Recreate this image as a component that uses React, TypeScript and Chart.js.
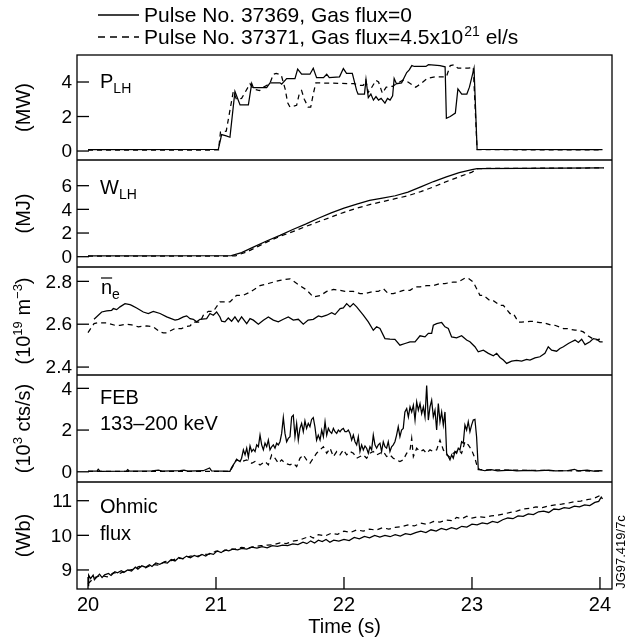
import React, { useEffect, useRef } from "react";
import { Chart, registerables } from "chart.js";

Chart.register(...registerables);

const FONT = "'Liberation Sans', Arial, Helvetica, sans-serif";

type Pt = [number, number];

// ---- ticks ----
const xTicks = [20, 21, 22, 23, 24];
const pTicks = [0, 2, 4];
const wTicks = [0, 2, 4, 6];
const neTicks = [2.4, 2.6, 2.8];
const febTicks = [0, 2, 4];
const ohmTicks = [9, 10, 11];

// ---- legend ----
const legendSolid = "Pulse No. 37369, Gas flux=0";
const legendDashedA = "Pulse No. 37371, Gas flux=4.5x10";
const legendDashedSup = "21";
const legendDashedB = " el/s";

// ---- P_LH (MW) ----
const pSolid: Pt[] = [
  [20.0, 0.08], [21.018, 0.1], [21.044, 0.95], [21.08, 0.88], [21.109, 0.8], [21.148, 3.45], [21.188, 2.67],
  [21.253, 2.67], [21.279, 3.92], [21.292, 3.67], [21.396, 3.67], [21.422, 3.95], [21.5, 3.95], [21.513, 3.88],
  [21.552, 4.2], [21.617, 4.2], [21.638, 4.75], [21.669, 4.45], [21.734, 4.45], [21.76, 4.8], [21.786, 4.25],
  [21.84, 4.25], [21.865, 4.45], [21.885, 4.25], [21.965, 4.3], [21.995, 4.78], [22.02, 4.5], [22.065, 4.5],
  [22.099, 3.5], [22.11, 3.3], [22.16, 3.3], [22.172, 4.15], [22.19, 3.1], [22.21, 3.3], [22.23, 2.95],
  [22.25, 3.15], [22.27, 2.95], [22.29, 3.05], [22.32, 2.78], [22.34, 3.05], [22.36, 2.95], [22.38, 3.2],
  [22.392, 4.2], [22.41, 3.9], [22.45, 3.95], [22.49, 4.55], [22.51, 4.7], [22.53, 4.95], [22.55, 4.9],
  [22.64, 4.9], [22.66, 5.0], [22.75, 4.95], [22.79, 4.88], [22.8, 1.9], [22.83, 2.0], [22.87, 2.2],
  [22.89, 3.6], [22.92, 3.3], [22.96, 3.3], [22.98, 3.7], [23.016, 4.8], [23.04, 0.1], [24.02, 0.08],
];
const pDashed: Pt[] = [
  [20.0, 0.05], [21.02, 0.06], [21.035, 1.1], [21.08, 1.15], [21.135, 3.45], [21.16, 3.0], [21.2, 3.05],
  [21.266, 3.9], [21.29, 3.6], [21.34, 3.5], [21.37, 3.7], [21.42, 3.9], [21.448, 4.45], [21.47, 4.5],
  [21.51, 4.4], [21.54, 3.6], [21.56, 2.8], [21.578, 2.55], [21.604, 2.6], [21.63, 2.65], [21.65, 3.3],
  [21.669, 3.5], [21.69, 3.0], [21.72, 2.55], [21.74, 2.55], [21.76, 3.3], [21.78, 3.95], [21.8, 3.95],
  [22.08, 3.9], [22.12, 3.8], [22.15, 3.8], [22.17, 4.1], [22.19, 3.4], [22.21, 3.6], [22.25, 4.1],
  [22.27, 4.0], [22.3, 3.35], [22.33, 3.7], [22.38, 3.75], [22.41, 3.9], [22.46, 4.1], [22.5, 4.0],
  [22.56, 3.7], [22.6, 3.9], [22.65, 4.2], [22.71, 4.3], [22.8, 4.3], [22.83, 4.95], [22.86, 5.0],
  [22.89, 4.8], [22.97, 4.8], [23.01, 4.85], [23.04, 0.08], [24.02, 0.06],
];

// ---- W_LH (MJ) ----
const wSolid: Pt[] = [
  [20.0, 0.06], [21.12, 0.09], [21.2, 0.35], [21.3, 0.85], [21.4, 1.35], [21.5, 1.8], [21.6, 2.3],
  [21.7, 2.75], [21.8, 3.25], [21.9, 3.7], [22.0, 4.1], [22.1, 4.45], [22.2, 4.75], [22.3, 4.95],
  [22.4, 5.15], [22.5, 5.45], [22.6, 5.9], [22.7, 6.35], [22.8, 6.75], [22.9, 7.1], [23.0, 7.35],
  [23.04, 7.45], [24.03, 7.5],
];
const wDashed: Pt[] = [
  [20.0, 0.04], [21.15, 0.06], [21.25, 0.45], [21.3, 0.72], [21.4, 1.25], [21.5, 1.72], [21.6, 2.12],
  [21.7, 2.55], [21.8, 2.95], [21.9, 3.35], [22.0, 3.75], [22.1, 4.1], [22.2, 4.4], [22.3, 4.65],
  [22.4, 4.9], [22.5, 5.15], [22.6, 5.5], [22.7, 5.9], [22.8, 6.35], [22.9, 6.75], [23.0, 7.15],
  [23.05, 7.45], [24.03, 7.5],
];

// ---- n_e (1e19 m^-3) ----
const neSolid: Pt[] = [
  [20.047, 2.623], [20.107, 2.657], [20.146, 2.662], [20.185, 2.665], [20.198, 2.673], [20.224, 2.668],
  [20.25, 2.681], [20.289, 2.696], [20.328, 2.691], [20.341, 2.688], [20.38, 2.676], [20.432, 2.657],
  [20.471, 2.65], [20.51, 2.66], [20.563, 2.65], [20.615, 2.634], [20.68, 2.619], [20.706, 2.623],
  [20.745, 2.634], [20.771, 2.639], [20.797, 2.626], [20.823, 2.623], [20.849, 2.611], [20.875, 2.623],
  [20.927, 2.626], [20.953, 2.65], [20.979, 2.642], [21.005, 2.657], [21.031, 2.634], [21.044, 2.614],
  [21.07, 2.611], [21.096, 2.629], [21.122, 2.614], [21.148, 2.634], [21.174, 2.611], [21.2, 2.634],
  [21.24, 2.603], [21.266, 2.626], [21.292, 2.619], [21.331, 2.6], [21.37, 2.619], [21.409, 2.634],
  [21.448, 2.619], [21.487, 2.611], [21.526, 2.623], [21.565, 2.634], [21.604, 2.619], [21.643, 2.623],
  [21.682, 2.6], [21.72, 2.619], [21.76, 2.623], [21.8, 2.639], [21.825, 2.634], [21.865, 2.642],
  [21.904, 2.654], [21.93, 2.645], [21.97, 2.673], [21.995, 2.676], [22.021, 2.696], [22.047, 2.681],
  [22.073, 2.696], [22.099, 2.681], [22.151, 2.642], [22.19, 2.611], [22.229, 2.572], [22.255, 2.588],
  [22.281, 2.58], [22.32, 2.533], [22.359, 2.53], [22.398, 2.529], [22.437, 2.502], [22.477, 2.51],
  [22.516, 2.518], [22.555, 2.518], [22.594, 2.546], [22.633, 2.541], [22.659, 2.557], [22.685, 2.557],
  [22.698, 2.595], [22.724, 2.603], [22.763, 2.608], [22.789, 2.588], [22.815, 2.58], [22.841, 2.541],
  [22.88, 2.536], [22.919, 2.546], [22.958, 2.526], [22.984, 2.518], [23.023, 2.495], [23.049, 2.471],
  [23.089, 2.479], [23.128, 2.464], [23.167, 2.453], [23.193, 2.464], [23.219, 2.445], [23.245, 2.433],
  [23.271, 2.417], [23.31, 2.428], [23.349, 2.431], [23.388, 2.428], [23.427, 2.436], [23.453, 2.433],
  [23.492, 2.443], [23.531, 2.448], [23.57, 2.464], [23.596, 2.495], [23.622, 2.479], [23.661, 2.474],
  [23.687, 2.487], [23.714, 2.495], [23.753, 2.51], [23.779, 2.518], [23.805, 2.526], [23.831, 2.515],
  [23.857, 2.53], [23.883, 2.505], [23.922, 2.518], [23.948, 2.533], [23.974, 2.53], [24.0, 2.518],
  [24.021, 2.518],
];
const neDashed: Pt[] = [
  [20.0, 2.561], [20.047, 2.603], [20.073, 2.606], [20.146, 2.606], [20.211, 2.595], [20.25, 2.595],
  [20.302, 2.6], [20.341, 2.597], [20.393, 2.588], [20.458, 2.592], [20.51, 2.588], [20.563, 2.564],
  [20.589, 2.56], [20.615, 2.56], [20.68, 2.58], [20.732, 2.58], [20.758, 2.588], [20.797, 2.592],
  [20.823, 2.61], [20.875, 2.61], [20.901, 2.642], [20.94, 2.66], [20.979, 2.66], [21.031, 2.704],
  [21.109, 2.704], [21.161, 2.735], [21.214, 2.735], [21.266, 2.75], [21.344, 2.78], [21.409, 2.79],
  [21.5, 2.805], [21.578, 2.812], [21.656, 2.78], [21.708, 2.76], [21.76, 2.727], [21.813, 2.733],
  [21.865, 2.753], [21.917, 2.762], [21.969, 2.758], [22.008, 2.753], [22.073, 2.753], [22.125, 2.743],
  [22.164, 2.743], [22.229, 2.753], [22.268, 2.753], [22.307, 2.766], [22.346, 2.743], [22.385, 2.743],
  [22.464, 2.758], [22.516, 2.758], [22.555, 2.774], [22.594, 2.774], [22.646, 2.78], [22.698, 2.78],
  [22.75, 2.79], [22.789, 2.79], [22.854, 2.797], [22.893, 2.797], [22.945, 2.815], [22.971, 2.815],
  [23.01, 2.797], [23.062, 2.735], [23.089, 2.735], [23.141, 2.71], [23.167, 2.71], [23.219, 2.688],
  [23.245, 2.688], [23.297, 2.65], [23.323, 2.65], [23.362, 2.61], [23.388, 2.61], [23.453, 2.613],
  [23.479, 2.613], [23.531, 2.608], [23.557, 2.608], [23.622, 2.595], [23.648, 2.595], [23.714, 2.58],
  [23.74, 2.58], [23.805, 2.572], [23.831, 2.572], [23.87, 2.564], [23.909, 2.545], [23.961, 2.526],
  [24.0, 2.53],
];

// ---- FEB 133-200 keV (1e3 cts/s) ----
const febSolid: Pt[] = [
  [20.0, 0.03], [20.07, 0.03], [20.08, 0.12], [20.095, 0.02], [20.3, 0.03], [20.31, 0.1], [20.325, 0.03],
  [20.5, 0.04], [20.55, 0.08], [20.58, 0.03], [20.72, 0.05], [20.75, 0.08], [20.78, 0.03], [20.9, 0.05],
  [20.95, 0.18], [20.965, 0.04], [21.05, 0.03], [21.109, 0.02],
  [21.122, 0.2], [21.135, 0.33], [21.148, 0.45], [21.161, 0.6], [21.174, 0.54], [21.188, 0.49], [21.2, 0.65],
  [21.214, 1.05], [21.227, 0.81], [21.24, 1.13], [21.253, 0.7], [21.266, 1.24], [21.279, 0.97], [21.292, 1.08],
  [21.305, 0.97], [21.318, 1.29], [21.331, 1.2], [21.344, 1.76], [21.357, 1.29], [21.37, 1.05], [21.383, 1.37],
  [21.396, 1.2], [21.409, 1.52], [21.422, 1.05], [21.435, 1.2], [21.448, 1.29], [21.461, 1.13], [21.474, 1.37],
  [21.487, 1.29], [21.5, 1.44], [21.513, 1.84], [21.526, 2.6], [21.539, 1.84], [21.552, 1.44], [21.565, 1.6],
  [21.578, 1.68], [21.591, 2.63], [21.604, 2.71], [21.617, 1.68], [21.63, 2.32], [21.643, 1.52], [21.656, 2.08],
  [21.669, 2.32], [21.682, 1.92], [21.695, 2.44], [21.708, 2.08], [21.721, 2.32], [21.734, 2.16], [21.747, 2.51],
  [21.76, 2.6], [21.773, 2.16], [21.786, 1.52], [21.799, 1.76], [21.813, 1.52], [21.826, 2.0], [21.839, 1.68],
  [21.852, 2.4], [21.865, 1.76], [21.878, 2.08], [21.891, 1.92], [21.904, 1.84], [21.917, 2.08], [21.93, 1.92],
  [21.943, 1.84], [21.956, 2.0], [21.969, 1.92], [21.982, 2.03], [21.995, 2.08], [22.008, 1.92], [22.021, 1.92],
  [22.034, 2.0], [22.047, 1.84], [22.06, 1.52], [22.073, 1.76], [22.086, 1.44], [22.099, 1.29], [22.112, 1.68],
  [22.125, 0.97], [22.138, 1.29], [22.151, 1.05], [22.164, 1.24], [22.177, 1.13], [22.19, 0.89], [22.203, 1.2],
  [22.216, 1.05], [22.229, 1.76], [22.242, 1.29], [22.255, 1.13], [22.268, 1.29], [22.281, 1.37], [22.294, 0.97],
  [22.307, 1.44], [22.32, 1.2], [22.333, 1.13], [22.346, 1.44], [22.359, 0.97], [22.372, 1.2], [22.385, 1.29],
  [22.398, 1.44], [22.411, 1.76], [22.424, 2.16], [22.437, 1.68], [22.45, 2.0], [22.463, 2.08], [22.476, 2.87],
  [22.49, 3.03], [22.503, 2.63], [22.516, 3.11], [22.529, 2.87], [22.542, 3.19], [22.555, 2.48], [22.568, 3.35],
  [22.581, 2.95], [22.594, 3.27], [22.607, 2.79], [22.62, 3.11], [22.633, 2.63], [22.646, 4.14], [22.659, 2.48],
  [22.672, 3.11], [22.685, 3.43], [22.698, 2.63], [22.711, 2.95], [22.724, 2.0], [22.737, 3.27], [22.75, 2.4],
  [22.763, 2.87], [22.776, 2.24], [22.789, 2.87], [22.802, 0.89], [22.815, 0.73], [22.828, 0.57], [22.841, 0.81],
  [22.854, 0.65], [22.867, 0.97], [22.88, 0.89], [22.893, 1.13], [22.906, 1.05], [22.919, 1.44], [22.932, 1.37],
  [22.945, 2.24], [22.958, 2.0], [22.971, 2.4], [22.984, 1.92], [22.997, 2.24], [23.01, 2.48], [23.023, 2.51],
  [23.036, 1.68], [23.049, 0.17], [23.062, 0.1], [23.1, 0.05], [23.15, 0.1], [23.2, 0.04], [23.3, 0.08],
  [23.35, 0.04], [23.45, 0.07], [23.5, 0.04], [23.6, 0.08], [23.65, 0.04], [23.75, 0.06], [23.8, 0.12],
  [23.83, 0.04], [23.9, 0.08], [23.95, 0.03], [24.0, 0.06], [24.02, 0.04],
];
const febDashed: Pt[] = [
  [20.0, 0.02], [21.109, 0.02], [21.161, 0.57], [21.2, 0.49], [21.24, 0.57], [21.279, 0.41], [21.305, 0.49],
  [21.344, 0.33], [21.383, 0.49], [21.409, 0.33], [21.435, 0.81], [21.461, 0.65], [21.487, 0.41], [21.513, 0.57],
  [21.539, 0.41], [21.578, 0.33], [21.604, 0.41], [21.63, 0.25], [21.656, 0.65], [21.682, 0.81], [21.708, 0.57],
  [21.734, 0.41], [21.76, 0.65], [21.786, 0.89], [21.813, 1.05], [21.839, 1.2], [21.865, 0.89], [21.891, 1.13],
  [21.917, 0.73], [21.943, 0.97], [21.969, 0.81], [21.995, 1.05], [22.021, 0.81], [22.047, 0.97], [22.073, 0.89],
  [22.099, 0.65], [22.125, 0.73], [22.151, 0.81], [22.177, 0.65], [22.203, 0.89], [22.229, 0.97], [22.255, 0.81],
  [22.281, 0.89], [22.307, 0.97], [22.333, 0.73], [22.359, 0.81], [22.385, 0.65], [22.411, 0.57], [22.437, 0.49],
  [22.463, 0.57], [22.49, 0.89], [22.516, 1.05], [22.529, 1.6], [22.542, 0.73], [22.568, 1.13], [22.594, 0.97],
  [22.62, 1.05], [22.646, 0.89], [22.672, 1.05], [22.698, 0.97], [22.724, 1.05], [22.737, 1.29], [22.75, 1.52],
  [22.763, 1.29], [22.776, 1.05], [22.802, 0.81], [22.828, 0.7], [22.854, 0.89], [22.893, 1.05], [22.919, 0.89],
  [22.945, 1.44], [22.971, 1.29], [22.997, 1.05], [23.023, 0.65], [23.041, 0.25], [23.049, 0.1], [24.02, 0.03],
];

// ---- Ohmic flux (Wb) ----
const ohmSolid: Pt[] = [
  [20.0, 8.55], [20.005, 8.85], [20.02, 8.75], [20.04, 8.85], [20.05, 8.72], [20.07, 8.8], [20.09, 8.88],
  [20.11, 8.78], [20.13, 8.86], [20.16, 8.9], [20.18, 8.84], [20.21, 8.95], [20.23, 8.92], [20.26, 8.98],
  [20.28, 8.93], [20.31, 9.0], [20.34, 8.97], [20.37, 9.08], [20.39, 9.02], [20.42, 9.12], [20.45, 9.08],
  [20.48, 9.15], [20.5, 9.1], [20.53, 9.2], [20.56, 9.16], [20.59, 9.22], [20.62, 9.2], [20.65, 9.3],
  [20.68, 9.26], [20.71, 9.36], [20.74, 9.32], [20.77, 9.4], [20.8, 9.35], [20.83, 9.42], [20.86, 9.38],
  [20.89, 9.45], [20.92, 9.4], [20.95, 9.48], [20.98, 9.45], [21.01, 9.55], [21.04, 9.5], [21.07, 9.58],
  [21.1, 9.55], [21.13, 9.6], [21.17, 9.58], [21.2, 9.62], [21.24, 9.6], [21.28, 9.66], [21.32, 9.63],
  [21.36, 9.67], [21.4, 9.64], [21.44, 9.7], [21.48, 9.68], [21.52, 9.72], [21.56, 9.7], [21.6, 9.75],
  [21.64, 9.73], [21.68, 9.8], [21.71, 9.76], [21.74, 9.84], [21.77, 9.78], [21.8, 9.86], [21.83, 9.82],
  [21.86, 9.88], [21.89, 9.8], [21.92, 9.86], [21.96, 9.83], [22.0, 9.88], [22.04, 9.85], [22.08, 9.94],
  [22.12, 9.9], [22.16, 9.97], [22.2, 9.93], [22.24, 10.0], [22.28, 9.95], [22.32, 10.0], [22.36, 9.96],
  [22.4, 10.02], [22.44, 9.98], [22.48, 10.05], [22.52, 10.02], [22.56, 10.08], [22.6, 10.12], [22.64, 10.08],
  [22.68, 10.16], [22.72, 10.12], [22.76, 10.2], [22.8, 10.16], [22.84, 10.22], [22.88, 10.18], [22.92, 10.26],
  [22.96, 10.24], [23.0, 10.32], [23.04, 10.3], [23.08, 10.36], [23.12, 10.33], [23.16, 10.4], [23.2, 10.37],
  [23.24, 10.45], [23.28, 10.5], [23.32, 10.48], [23.36, 10.56], [23.4, 10.55], [23.44, 10.62], [23.48, 10.6],
  [23.52, 10.68], [23.56, 10.7], [23.6, 10.66], [23.64, 10.76], [23.68, 10.74], [23.72, 10.8], [23.76, 10.78],
  [23.8, 10.84], [23.84, 10.82], [23.88, 10.88], [23.92, 10.86], [23.96, 10.95], [23.99, 10.98], [24.01, 11.1],
  [24.02, 11.05],
];
const ohmDashed: Pt[] = [
  [20.0, 8.6], [20.05, 8.78], [20.1, 8.84], [20.15, 8.8], [20.2, 8.92], [20.25, 8.9], [20.3, 8.98],
  [20.35, 9.02], [20.4, 9.1], [20.45, 9.06], [20.5, 9.16], [20.55, 9.14], [20.6, 9.24], [20.65, 9.27],
  [20.7, 9.34], [20.75, 9.33], [20.8, 9.4], [20.85, 9.39], [20.9, 9.45], [20.95, 9.46], [21.0, 9.54],
  [21.05, 9.53], [21.1, 9.6], [21.15, 9.6], [21.2, 9.65], [21.25, 9.63], [21.3, 9.68], [21.35, 9.7],
  [21.4, 9.72], [21.45, 9.73], [21.5, 9.78], [21.55, 9.76], [21.6, 9.83], [21.65, 9.86], [21.7, 9.93],
  [21.73, 9.98], [21.76, 9.92], [21.8, 10.02], [21.85, 9.98], [21.9, 10.06], [21.95, 10.03], [22.0, 10.12],
  [22.05, 10.08], [22.1, 10.16], [22.15, 10.12], [22.2, 10.18], [22.25, 10.15], [22.3, 10.22], [22.35, 10.18],
  [22.4, 10.23], [22.45, 10.25], [22.5, 10.3], [22.55, 10.27], [22.6, 10.35], [22.65, 10.32], [22.7, 10.4],
  [22.75, 10.38], [22.8, 10.44], [22.85, 10.42], [22.88, 10.52], [22.92, 10.48], [22.96, 10.55], [23.0, 10.5],
  [23.05, 10.54], [23.1, 10.52], [23.15, 10.56], [23.2, 10.58], [23.25, 10.62], [23.3, 10.66], [23.35, 10.7],
  [23.4, 10.76], [23.45, 10.78], [23.5, 10.82], [23.55, 10.8], [23.6, 10.85], [23.65, 10.88], [23.7, 10.9],
  [23.75, 10.93], [23.8, 10.97], [23.85, 10.99], [23.9, 11.03], [23.95, 11.06], [24.0, 11.15], [24.02, 11.12],
];

const toXY = (a: Pt[]) => a.map(([x, y]) => ({ x, y }));

function ds(data: Pt[], axis: string, dashed: boolean) {
  return {
    data: toXY(data),
    yAxisID: axis,
    borderColor: "#000",
    borderWidth: 1.25,
    borderDash: dashed ? [5, 4] : [],
    pointRadius: 0,
    tension: 0,
    fill: false,
  };
}

function yScale(min: number, max: number, ticks: number[], weight: number) {
  return {
    type: "linear",
    position: "left",
    stack: "panels",
    stackWeight: weight,
    min,
    max,
    afterBuildTicks: (s: any) => {
      s.ticks = ticks.map((v) => ({ value: v }));
    },
    afterFit: (s: any) => {
      s.width = 77;
    },
    grid: { display: false, drawTicks: false },
    border: { display: false },
    ticks: { display: false },
  };
}

type Seg = { t: string; sup?: boolean };
const yTitles: Record<string, Seg[]> = {
  yP: [{ t: "(MW)" }],
  yW: [{ t: "(MJ)" }],
  yNe: [{ t: "(10" }, { t: "19", sup: true }, { t: " m" }, { t: "\u22123", sup: true }, { t: ")" }],
  yFeb: [{ t: "(10" }, { t: "3", sup: true }, { t: " cts/s)" }],
  yOhm: [{ t: "(Wb)" }],
};

const decor = {
  id: "decor",
  afterDraw(chart: any) {
    const ctx: CanvasRenderingContext2D = chart.ctx;
    const { left, right, top, bottom } = chart.chartArea;
    const ids = ["yP", "yW", "yNe", "yFeb", "yOhm"];
    ctx.save();
    ctx.strokeStyle = "#000";
    ctx.fillStyle = "#000";
    ctx.lineWidth = 1.3;
    ctx.setLineDash([]);
    const line = (x1: number, y1: number, x2: number, y2: number) => {
      ctx.beginPath();
      ctx.moveTo(x1, y1);
      ctx.lineTo(x2, y2);
      ctx.stroke();
    };
    ctx.strokeRect(left, top, right - left, bottom - top);
    ctx.font = `19px ${FONT}`;
    ctx.textAlign = "right";
    ctx.textBaseline = "middle";
    ids.forEach((id) => {
      const s = chart.scales[id];
      if (id !== "yOhm") line(left, s.bottom, right, s.bottom);
      s.ticks.forEach((t: any) => {
        const y = s.getPixelForValue(t.value);
        line(left, y, left + 12, y);
        ctx.fillText(String(t.value), left - 5, y + 1);
      });
    });
    const xs = chart.scales.x;
    xs.ticks.forEach((t: any) => {
      const x = xs.getPixelForValue(t.value);
      line(x, bottom, x, bottom - 12);
    });

    // rotated y titles
    const tSize = 20;
    const sSize = 13;
    ids.forEach((id) => {
      const s = chart.scales[id];
      const segs = yTitles[id];
      let total = 0;
      segs.forEach((g) => {
        ctx.font = `${g.sup ? sSize : tSize}px ${FONT}`;
        total += ctx.measureText(g.t).width;
      });
      ctx.save();
      ctx.translate(23, (s.top + s.bottom) / 2);
      ctx.rotate(-Math.PI / 2);
      ctx.textBaseline = "alphabetic";
      ctx.textAlign = "left";
      let x = -total / 2;
      const base = tSize * 0.36;
      segs.forEach((g) => {
        ctx.font = `${g.sup ? sSize : tSize}px ${FONT}`;
        ctx.fillText(g.t, x, g.sup ? base - tSize * 0.4 : base);
        x += ctx.measureText(g.t).width;
      });
      ctx.restore();
    });

    // panel labels
    const lSize = 20;
    const subSize = 14;
    ctx.textAlign = "left";
    ctx.textBaseline = "alphabetic";
    const withSub = (x: number, y: number, main: string, sub: string) => {
      ctx.font = `${lSize}px ${FONT}`;
      ctx.fillText(main, x, y);
      const w = ctx.measureText(main).width;
      ctx.font = `${subSize}px ${FONT}`;
      ctx.fillText(sub, x + w, y + 5);
      return w;
    };
    const sP = chart.scales.yP;
    withSub(100, sP.top + 33, "P", "LH");
    const sW = chart.scales.yW;
    withSub(100, sW.top + 34, "W", "LH");
    const sN = chart.scales.yNe;
    const nw = withSub(101, sN.top + 27, "n", "e");
    ctx.lineWidth = 1.2;
    line(101, sN.top + 11, 101 + nw, sN.top + 11);
    const sF = chart.scales.yFeb;
    ctx.font = `${lSize}px ${FONT}`;
    ctx.fillText("FEB", 100, sF.top + 29);
    ctx.fillText("133\u2013200 keV", 100, sF.top + 55);
    const sO = chart.scales.yOhm;
    ctx.fillText("Ohmic", 100, sO.top + 31);
    ctx.fillText("flux", 100, sO.top + 58);

    // legend
    const legSize = 21;
    ctx.lineWidth = 1.3;
    ctx.setLineDash([]);
    line(98, 15, 139, 15);
    ctx.setLineDash([7, 5]);
    line(98, 37, 139, 37);
    ctx.setLineDash([]);
    ctx.font = `${legSize}px ${FONT}`;
    ctx.textBaseline = "alphabetic";
    ctx.fillText(legendSolid, 144, 22);
    ctx.fillText(legendDashedA, 144, 44);
    let lx = 144 + ctx.measureText(legendDashedA).width + 1;
    ctx.font = `14px ${FONT}`;
    ctx.fillText(legendDashedSup, lx, 36);
    lx += ctx.measureText(legendDashedSup).width;
    ctx.font = `${legSize}px ${FONT}`;
    ctx.fillText(legendDashedB, lx, 44);

    // code tag
    ctx.save();
    ctx.translate(625, 552);
    ctx.rotate(-Math.PI / 2);
    ctx.font = `13px ${FONT}`;
    ctx.textAlign = "center";
    ctx.textBaseline = "alphabetic";
    ctx.fillText("JG97.419/7c", 0, 0);
    ctx.restore();

    ctx.restore();
  },
};

export default function App() {
  const ref = useRef<HTMLCanvasElement>(null);
  useEffect(() => {
    const chart = new Chart(ref.current as HTMLCanvasElement, {
      type: "line",
      data: {
        datasets: [
          ds(pSolid, "yP", false),
          ds(pDashed, "yP", true),
          ds(wSolid, "yW", false),
          ds(wDashed, "yW", true),
          ds(neSolid, "yNe", false),
          ds(neDashed, "yNe", true),
          ds(febSolid, "yFeb", false),
          ds(febDashed, "yFeb", true),
          ds(ohmSolid, "yOhm", false),
          ds(ohmDashed, "yOhm", true),
        ] as any,
      },
      options: {
        responsive: false,
        devicePixelRatio: 1,
        animation: false,
        events: [],
        layout: { padding: { top: 55, right: 21, left: 0, bottom: 0 } },
        plugins: { legend: { display: false }, tooltip: { enabled: false } },
        scales: {
          x: {
            type: "linear",
            position: "bottom",
            min: 19.914,
            max: 24.094,
            afterBuildTicks: (s: any) => {
              s.ticks = xTicks.map((v) => ({ value: v }));
            },
            afterFit: (s: any) => {
              s.height = 53;
            },
            grid: { display: false, drawTicks: false },
            border: { display: false },
            ticks: {
              color: "#000",
              padding: 4,
              maxRotation: 0,
              autoSkip: false,
              font: { family: FONT, size: 20 },
              callback: (v: any) => String(v),
            },
            title: {
              display: true,
              text: "Time (s)",
              color: "#000",
              font: { family: FONT, size: 20 },
              padding: { top: 0, bottom: 3 },
            },
          },
          yOhm: yScale(8.45, 11.54, ohmTicks, 107),
          yFeb: yScale(-0.49, 4.64, febTicks, 107),
          yNe: yScale(2.363, 2.867, neTicks, 108),
          yW: yScale(-0.87, 8.17, wTicks, 107),
          yP: yScale(-0.52, 5.565, pTicks, 105),
        } as any,
      },
      plugins: [decor],
    });
    return () => chart.destroy();
  }, []);
  return (
    <div style={{ position: "absolute", left: 0, top: 0, width: 633, height: 642, background: "#fff" }}>
      <canvas ref={ref} width={633} height={642} style={{ display: "block" }} />
    </div>
  );
}
